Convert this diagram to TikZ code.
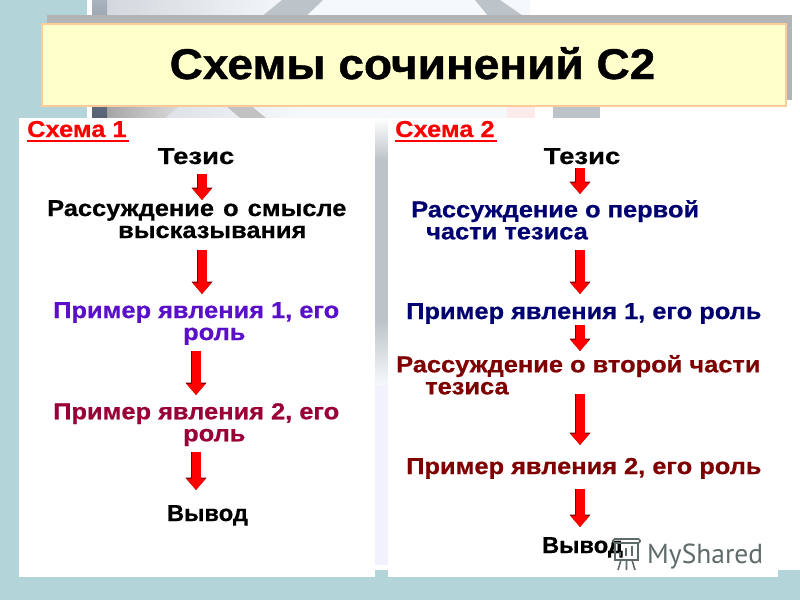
\documentclass[tikz,border=0pt]{standalone}
\usepackage{fontspec}
\usetikzlibrary{arrows.meta}
\setmainfont{Liberation Sans}
\newfontfamily\bodyf[FakeStretch=1.105,FakeBold=0.6]{Liberation Sans Bold}
\newfontfamily\tezf[FakeStretch=1.195,FakeBold=0.6]{Liberation Sans Bold}
\newfontfamily\vyvf[FakeStretch=1.033,FakeBold=0.6]{Liberation Sans Bold}
\newfontfamily\titf[FakeStretch=1.07,FakeBold=1]{Liberation Sans Bold}
\newfontfamily\markfont{PT Sans}
\definecolor{teal1}{HTML}{B3D4D8}
\definecolor{creamy}{HTML}{FFFFCC}
\definecolor{edgeor}{HTML}{FFCC99}
\definecolor{shad}{HTML}{B2B4B6}
\definecolor{purp}{HTML}{5A10C8}
\definecolor{wine}{HTML}{990038}
\definecolor{navy1}{HTML}{000070}
\definecolor{maroon1}{HTML}{7F0000}
\definecolor{redd}{HTML}{FF0000}
\definecolor{bandg}{HTML}{BCC4C9}
\definecolor{markg}{HTML}{5F6B6B}
\definecolor{striptop}{HTML}{A9B3BE}
\definecolor{stripbot}{HTML}{566272}
\definecolor{bgleft}{HTML}{D3D8DE}
\definecolor{bgright}{HTML}{F6F9FB}
\tikzset{
 x=1pt,y=-1pt,
 body/.style={font=\bodyf\fontsize{23}{22}\selectfont,inner sep=0pt,align=left,anchor=north west},
 ctr/.style={font=\tezf\fontsize{23}{22}\selectfont,inner sep=0pt,anchor=base},
 vyv/.style={font=\vyvf\fontsize{23}{22}\selectfont,inner sep=0pt,anchor=base},
 oneline/.style={font=\bodyf\fontsize{23}{22}\selectfont,inner sep=0pt,anchor=base west},
 head/.style={font=\bodyf\fontsize{23}{22}\selectfont,inner sep=0pt,anchor=base west,text=redd},
 ular/.style={redd,line width=2pt},
 blockarrow/.style={draw=redd,line width=9pt,-{Triangle[length=11pt,width=18pt,fill=redd]},
   preaction={draw=maroon1,line width=10.6pt,-{Triangle[length=12.5pt,width=20.5pt,fill=maroon1]}}},
}
\begin{document}
\begin{tikzpicture}
\useasboundingbox (0,0) rectangle (800,600);
% background
\fill[white] (0,0) rectangle (800,600);
\fill[teal1] (0,0) rectangle (87,600);
\fill[teal1] (0,577) rectangle (800,600);
\shade[left color=bgleft,right color=bgright] (107,0) rectangle (300,118);
\fill[bgright] (300,0) rectangle (530,118);
\fill[bandg] (282,0) -- (323,0) -- (300,22) -- (255,22) -- cycle;
\fill[bandg] (475,0) -- (500,0) -- (532,22) -- (493,22) -- cycle;
\shade[left color=black!35,right color=black!14] (107,105) -- (181,105) -- (165,118) -- (107,118) -- cycle;
\fill[black!24] (225,105) -- (250,105) -- (266,118) -- (240,118) -- cycle;
\fill[black!10!red!8!white] (507,105) -- (535,105) -- (535,118) -- (507,118) -- cycle;
\fill[bandg] (553,105) rectangle (600,118);
\shade[top color=striptop,bottom color=stripbot] (92,0) rectangle (107,118);
\shade[top color=white,bottom color=bandg] (375,118) rectangle (388,160);
\fill[bandg] (375,160) rectangle (388,320);
\shade[top color=bandg,bottom color=bgright] (375,320) rectangle (388,385);
\fill[blue!5] (375,385) rectangle (388,565);
% panels
\fill[white] (19,118) rectangle (375,577);
\fill[white] (388,118) rectangle (800,577);
\fill[teal1] (375,570) rectangle (388,577);
\fill[teal1] (778,570) rectangle (800,600);
% title
\fill[shad] (47,15) rectangle (792,100);
\node[draw=edgeor,fill=creamy,line width=2pt,minimum width=744pt,minimum height=82pt,anchor=north west,inner sep=0pt] (title) at (41,23) {};
\node[font=\titf\fontsize{43}{43}\selectfont,inner sep=0pt,anchor=base] (titletext) at (412.5,79) {Схемы сочинений С2};
% column 1
\node[head] (s1) at (27,137) {Схема 1};
\draw[ular] (s1.base west |- 0,141) -- (129,141);
\node[ctr] (t1) at (196,164) {Тезис};
\node[body] (r1) at (47,200) {Рассуждение\hspace{2pt} о\hspace{2pt} смысле\\\hspace*{71pt}высказывания};
\node[body,text=purp] (p1) at (53,302) {Пример явления 1, его\\\hspace*{130pt}роль};
\node[body,text=wine] (p2) at (53,403) {Пример явления 2, его\\\hspace*{130pt}роль};
\node[vyv] (v1) at (207.5,521) {Вывод};
% column 2
\node[head] (s2) at (395,137) {Схема 2};
\draw[ular] (s2.base west |- 0,141) -- (497,141);
\node[ctr] (t2) at (582,164) {Тезис};
\node[body,text=navy1] (q1) at (411,200) {Рассуждение о первой\\\hspace*{15pt}части тезиса};
\node[oneline,text=navy1] (q2) at (406,319) {Пример явления 1, его роль};
\node[body,text=maroon1] (q3) at (396,355) {Рассуждение о второй части\\\hspace*{29pt}тезиса};
\node[oneline,text=maroon1] (q4) at (406,474) {Пример явления 2, его роль};
\node[vyv] (v2) at (582.5,553) {Вывод};
% arrows col 1
\coordinate (a1a) at (202,174); \coordinate (a1b) at (202,200);
\coordinate (a2a) at (202,250); \coordinate (a2b) at (202,294);
\coordinate (a3a) at (196,351); \coordinate (a3b) at (196,395);
\coordinate (a4a) at (196,452); \coordinate (a4b) at (196,490);
\draw[blockarrow] (a1a) -- (a1b);
\draw[blockarrow] (a2a) -- (a2b);
\draw[blockarrow] (a3a) -- (a3b);
\draw[blockarrow] (a4a) -- (a4b);
% arrows col 2
\coordinate (b1a) at (580,168); \coordinate (b1b) at (580,194);
\coordinate (b2a) at (580,250); \coordinate (b2b) at (580,294);
\coordinate (b3a) at (580,325); \coordinate (b3b) at (580,351);
\coordinate (b4a) at (580,394); \coordinate (b4b) at (580,445);
\coordinate (b5a) at (580,489); \coordinate (b5b) at (580,527);
\draw[blockarrow] (b1a) -- (b1b);
\draw[blockarrow] (b2a) -- (b2b);
\draw[blockarrow] (b3a) -- (b3b);
\draw[blockarrow] (b4a) -- (b4b);
\draw[blockarrow] (b5a) -- (b5b);
% watermark
\node[font=\markfont\fontsize{27.5}{27.5}\selectfont,text=markg,inner sep=0pt,anchor=base west] (mark) at (647,563) {MyShared};
\begin{scope}[draw=markg,line width=1.6pt]
\draw[rounded corners=1.5pt] (613,543) -- (613,539) -- (640,539) -- (640,543) -- cycle;
\draw (615,543) -- (615,560) -- (638,560) -- (638,543);
\draw (620,556) -- (620,552) (626,556) -- (626,548) (632,556) -- (632,546);
\draw (621,560) -- (618,570) (632,560) -- (635,570) (626.5,560) -- (626.5,570);
\end{scope}
\end{tikzpicture}
\end{document}
